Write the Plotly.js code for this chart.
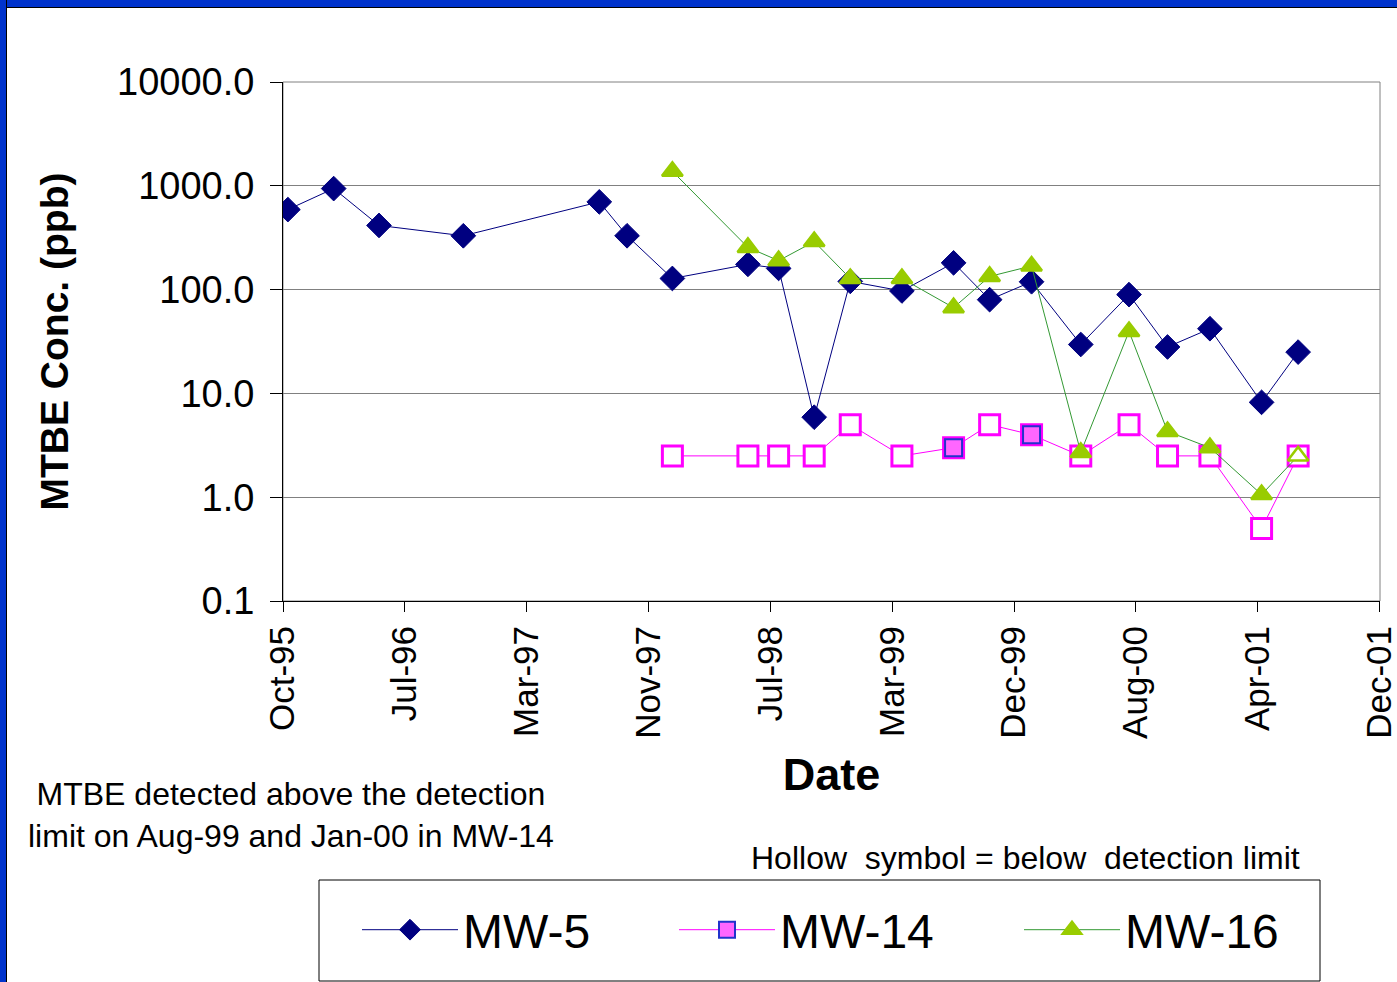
<!DOCTYPE html>
<html><head><meta charset="utf-8">
<script src="https://cdn.plot.ly/plotly-3.0.1.min.js"></script>
<style>
html,body{margin:0;padding:0;background:#fff;overflow:hidden;}
#chart{position:absolute;left:0;top:0;width:1397px;height:982px;}
.frame{position:absolute;pointer-events:none;}
</style></head><body>
<div id="chart"></div>
<div class="frame" style="left:0;top:0;width:1397px;height:7px;background:#0033CC;border-bottom:1px solid #000;"></div>
<div class="frame" style="left:0;top:0;width:6px;height:982px;background:#0033CC;border-right:1px solid #000;"></div>
<script>
// ---- data ----
const datesMW5 = ['1995-11-07','1996-02-09','1996-05-12','1996-11-01','1997-08-07','1997-10-03',
  '1998-01-04','1998-06-08','1998-08-10','1998-10-22','1999-01-04','1999-04-20','1999-08-04',
  '1999-10-17','2000-01-11','2000-04-21','2000-07-29','2000-10-16','2001-01-11','2001-04-27','2001-07-11'];
const mw5 = [590, 940, 415, 330, 700, 330, 128, 175, 160, 5.9, 120, 97, 181, 80, 119, 29.6, 89.5, 28, 42, 8.2, 25];

const datesMW14_16 = ['1998-01-04','1998-06-08','1998-08-10','1998-10-22','1999-01-04','1999-04-20','1999-08-04',
  '1999-10-17','2000-01-11','2000-04-21','2000-07-29','2000-10-16','2001-01-11','2001-04-27','2001-07-11'];
const mw14 = [2.5, 2.5, 2.5, 2.5, 5, 2.5, 3, 5, 4, 2.5, 5, 2.5, 2.5, 0.5, 2.5];
const mw14Detected = [false,false,false,false,false,false,true,false,true,false,false,false,false,false,false];
const mw16 = [1380, 255, 190, 290, 128, 128, 67, 134, 169, 2.7, 39.5, 4.3, 3.0, 1.06, 2.5];
const mw16Detected = [true,true,true,true,true,true,true,true,true,true,true,true,true,true,false];

const xTickVals = ['1995-10-28','1996-07-04','1997-03-11','1997-11-16','1998-07-24','1999-03-31',
  '1999-12-06','2000-08-12','2001-04-19','2001-12-25'];
const xTickText = ['Oct-95','Jul-96','Mar-97','Nov-97','Jul-98','Mar-99','Dec-99','Aug-00','Apr-01','Dec-01'];
const yTickVals = [0.1, 1, 10, 100, 1000, 10000];
const yTickText = ['0.1','1.0','10.0','100.0','1000.0','10000.0'];

// ---- layout geometry (px) ----
const W = 1397, H = 982;
const L = 283, R = 1380, T = 82, B = 601;
const px = x => (x - L) / (R - L);
const py = y => (B - y) / (B - T);

const FONT = 'Arial, "Liberation Sans", Helvetica, sans-serif';

const traces = [
  {
    name: 'MW-5', x: datesMW5, y: mw5, type: 'scatter', mode: 'lines+markers', legend: 'legend',
    line: {color: '#000080', width: 1},
    marker: {symbol: 'diamond', size: 19, color: '#000080', line: {color: '#000080', width: 1}}
  },
  {
    name: 'MW-14', x: datesMW14_16, y: mw14, type: 'scatter', mode: 'lines+markers',
    showlegend: false, legendgroup: 'mw14', legend: 'legend2',
    line: {color: '#FF00FF', width: 1},
    marker: {symbol: 'square', size: 20, color: mw14Detected.map(d => d ? '#FF66FF' : '#FFFFFF'),
      line: {color: '#FF00FF', width: 3}}
  },
  {
    name: 'MW-14', x: datesMW14_16, y: mw14.map((v, i) => mw14Detected[i] ? v : null),
    type: 'scatter', mode: 'lines+markers', connectgaps: false, legendgroup: 'mw14', legend: 'legend2',
    line: {color: '#FF00FF', width: 1},
    marker: {symbol: 'square', size: 17, color: '#FF66FF', line: {color: '#2233CC', width: 2}}
  },
  {
    name: 'MW-16', x: datesMW14_16, y: mw16, type: 'scatter', mode: 'lines+markers', legend: 'legend3',
    line: {color: '#339933', width: 1},
    marker: {symbol: 'triangle-up', size: 18, color: mw16Detected.map(d => d ? '#99CC00' : '#FFFFFF'),
      line: {color: '#99CC00', width: 2.5}}
  }
];

const legendStyle = xLeft => ({
  orientation: 'h', x: px(xLeft), xanchor: 'left', y: py(930), yanchor: 'middle',
  bgcolor: 'rgba(0,0,0,0)', borderwidth: 0,
  font: {size: 48, family: FONT, color: '#000'}, itemwidth: 96
});

const layout = {
  width: W, height: H,
  margin: {l: L, r: W - R, t: T, b: H - B, pad: 0},
  paper_bgcolor: '#FFFFFF', plot_bgcolor: '#FFFFFF',
  font: {family: FONT, color: '#000000'},
  showlegend: true,
  xaxis: {
    type: 'date', range: ['1995-10-28', '2001-12-26'],
    tickmode: 'array', tickvals: xTickVals, ticktext: xTickText, tickangle: -90,
    tickfont: {size: 35, family: FONT, color: '#000'}, ticklabeloverflow: 'allow',
    ticks: 'outside', ticklen: 10, tickcolor: '#000', tickwidth: 1,
    showline: true, linecolor: '#000', linewidth: 1,
    showgrid: false, zeroline: false, automargin: false,
    title: {text: '<b>Date</b>', font: {size: 45, family: FONT, color: '#000'}, standoff: 20}
  },
  yaxis: {
    type: 'log', range: [-1, 4],
    tickmode: 'array', tickvals: yTickVals, ticktext: yTickText,
    tickfont: {size: 38, family: FONT, color: '#000'},
    ticks: 'outside', ticklen: 12, tickcolor: '#000', tickwidth: 1, ticklabelstandoff: 8,
    showline: true, linecolor: '#000', linewidth: 1,
    showgrid: true, gridcolor: '#808080', gridwidth: 1, zeroline: false, automargin: false,
    title: {text: '<b>MTBE Conc. (ppb)</b>', font: {size: 39, family: FONT, color: '#000'}, standoff: 36}
  },
  legend: legendStyle(357),
  legend2: legendStyle(674),
  legend3: legendStyle(1019),
  shapes: [
    {type: 'rect', xref: 'paper', yref: 'paper', x0: 0, x1: 1, y0: 0, y1: 1,
      line: {color: '#808080', width: 1}, layer: 'below'},
    {type: 'rect', xref: 'paper', yref: 'paper', x0: px(319), x1: px(1320), y0: py(880), y1: py(981),
      line: {color: '#000000', width: 1}, fillcolor: 'rgba(0,0,0,0)'}
  ],
  annotations: [
    {xref: 'paper', yref: 'paper', x: px(291), y: py(815), xanchor: 'center', yanchor: 'middle',
      align: 'center', showarrow: false,
      text: 'MTBE detected above the detection<br>limit on Aug-99 and Jan-00 in MW-14',
      font: {size: 32, family: FONT, color: '#000'}},
    {xref: 'paper', yref: 'paper', x: px(1025), y: py(858), xanchor: 'center', yanchor: 'middle',
      showarrow: false, text: 'Hollow\u00a0 symbol = below\u00a0 detection limit',
      font: {size: 32, family: FONT, color: '#000'}}
  ]
};

Plotly.newPlot('chart', traces, layout, {staticPlot: true, displayModeBar: false});
</script>
</body></html>
